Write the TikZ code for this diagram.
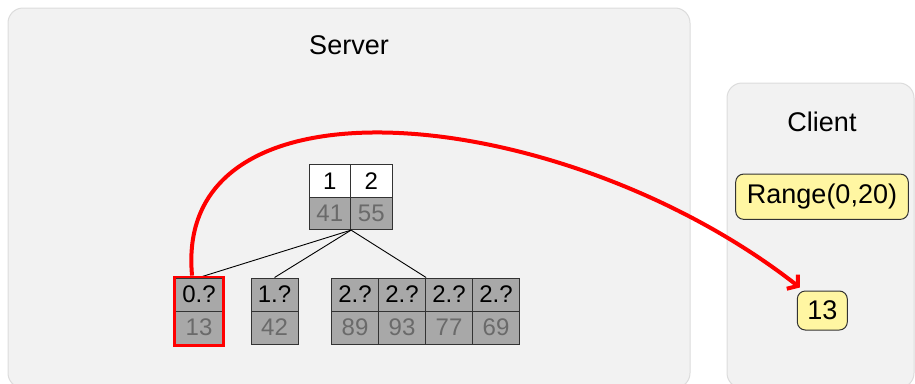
\documentclass[tikz,border=0pt]{standalone}
\usepackage{fontspec}
\setmainfont{Liberation Sans}
\usetikzlibrary{arrows.meta,fit,calc}

\definecolor{panelfill}{HTML}{F2F2F2}
\definecolor{panelline}{HTML}{DCDCDC}
\definecolor{cellgray}{HTML}{A8A8A8}
\definecolor{valtext}{HTML}{6A6A6A}
\definecolor{noteyellow}{HTML}{FFF6A2}
\definecolor{hilite}{HTML}{FF0000}

\begin{document}
\begin{tikzpicture}[x=1pt,y=-1pt,
  panel/.style={draw=panelline, fill=panelfill, line width=1pt, rounded corners=15pt},
  title/.style={font=\fontsize{27}{30}\selectfont},
  cellbase/.style={draw=black!80, line width=1.1pt, inner sep=0pt, anchor=north west,
    font=\fontsize{24}{26}\selectfont},
  topcell/.style={cellbase, minimum width=41.5pt, minimum height=32.5pt},
  leafcell/.style={cellbase, minimum width=47pt, minimum height=33pt, fill=cellgray},
  idx/.style={text=black},
  val/.style={fill=cellgray, text=valtext},
  note/.style={draw=black!80, line width=1pt, fill=noteyellow, rounded corners=8pt,
    inner sep=0pt, font=\fontsize{27}{30}\selectfont},
  edge/.style={draw=black, line width=0.9pt},
  fetch/.style={draw=hilite, line width=4pt, -{Straight Barb[length=7pt,width=18pt]}}
]
\useasboundingbox (0,0) rectangle (915,383);

% panels
\path[panel] (8,8) rectangle (690,388);
\path[panel] (727,83) rectangle (914,388);
\node[title] (srvtitle) at (349,45) {Server};
\node[title] (clititle) at (822,122) {Client};

% root node of the tree
\node[topcell, fill=white, idx] (r1) at (308.5,164) {1};
\node[topcell, fill=white, idx] (r2) at (350,164) {2};
\node[topcell, val] (r41) at (308.5,196.5) {41};
\node[topcell, val] (r55) at (350,196.5) {55};

% leaves
\node[leafcell, idx] (a0) at (175,277.5) {0.?};
\node[leafcell, val] (a13) at (175,310.5) {13};
\node[leafcell, idx] (b0) at (250.5,277.5) {1.?};
\node[leafcell, val] (b42) at (250.5,310.5) {42};
\node[leafcell, idx] (c0) at (331,277.5) {2.?};
\node[leafcell, val] (c89) at (331,310.5) {89};
\node[leafcell, idx] (c1) at (378,277.5) {2.?};
\node[leafcell, val] (c93) at (378,310.5) {93};
\node[leafcell, idx] (c2) at (425,277.5) {2.?};
\node[leafcell, val] (c77) at (425,310.5) {77};
\node[leafcell, idx] (c3) at (472,277.5) {2.?};
\node[leafcell, val] (c69) at (472,310.5) {69};

% tree edges
\coordinate (root) at (r41.south east);
\draw[edge] (root) -- (a0.north);
\draw[edge] (root) -- (b0.north);
\draw[edge] (root) -- (c1.north east);

% selected leaf
\node[draw=hilite, line width=2.6pt, inner sep=0.6pt, fit=(a0)(a13)] (sel) {};

% client side
\node[note, minimum width=172.6pt, minimum height=45.3pt] (range) at (822,196.7) {Range(0,20)};
\node[note, minimum width=50pt, minimum height=39pt] (res) at (822.3,310.5) {13};

% result transfer
\draw[fetch] ([xshift=-7pt]sel.north) .. controls (172,64) and (565,104) .. ([shift={(3,-3)}]res.north west);
\end{tikzpicture}
\end{document}
